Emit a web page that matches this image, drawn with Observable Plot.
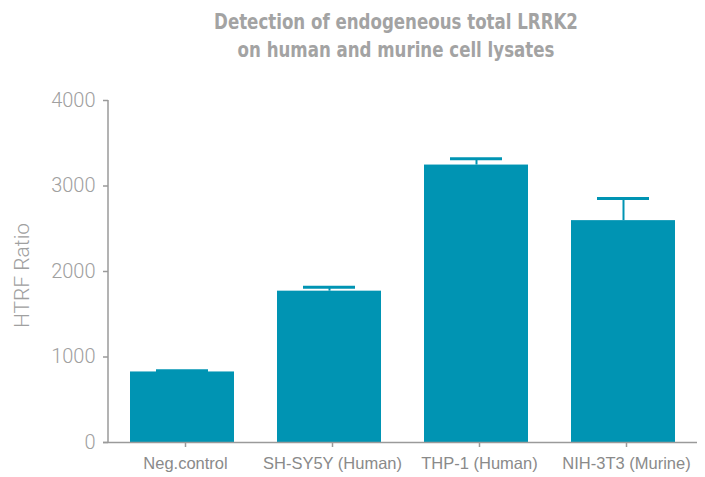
<!DOCTYPE html>
<html><head><meta charset="utf-8">
<script src="https://cdn.jsdelivr.net/npm/d3@7"></script>
<script src="https://cdn.jsdelivr.net/npm/@observablehq/plot@0.6"></script>
<style>
body{margin:0;background:#fff;}
#title{height:78px;box-sizing:border-box;padding-top:8px;width:705px;position:relative;}
#title div{position:absolute;left:396px;transform:translateX(-50%) scaleX(0.86);white-space:nowrap;font-family:"DejaVu Sans Condensed","DejaVu Sans",sans-serif;font-weight:bold;font-size:21.5px;line-height:28px;color:#a3a3a3;text-align:center;}
</style></head><body>
<div id="title"><div>Detection of endogeneous total LRRK2<br>on human and murine cell lysates</div></div>
<div id="chart"></div>
<script>
const categories = ["Neg.control", "SH-SY5Y (Human)", "THP-1 (Human)", "NIH-3T3 (Murine)"];
const values = [825, 1770, 3245, 2595];
const errors = [15, 45, 75, 260];
const yTicks = [0, 1000, 2000, 3000, 4000];

const data = categories.map((c, i) => ({cat: c, v: values[i], e: errors[i]}));
const color = "#0094b3";
const grey = "#9a9a9a";

const chart = Plot.plot({
  width: 705,
  height: 399,
  marginTop: 22,
  marginBottom: 35,
  marginLeft: 108,
  marginRight: 8,
  x: {domain: categories, paddingInner: 0.29, paddingOuter: 0.145, label: null},
  y: {domain: [0, 4000], label: null},
  style: {fontFamily: "Liberation Sans, Arial, sans-serif", color: grey, background: "#fff"},
  marks: [
    Plot.barY(data, {x: "cat", y: "v", fill: color}),
    Plot.ruleX(data, {x: "cat", y1: "v", y2: d => d.v + d.e, stroke: color, strokeWidth: 2}),
    Plot.tickY(data, {x: "cat", y: d => d.v + d.e, stroke: color, strokeWidth: 3, inset: 26}),
    Plot.ruleY([0], {stroke: grey, strokeWidth: 1.5, insetLeft: -5}),
    Plot.axisY({ticks: yTicks, tickFormat: d3.format("d"), tickSize: 5, tickPadding: 8, fontSize: 20, stroke: grey, strokeWidth: 1.5, fill: "#a0a0a0", fontFamily: "Roboto", fontWeight: 300}),
    Plot.axisX({tickSize: 5, tickPadding: 10, fontSize: 16.5, dx: 3, stroke: grey, strokeWidth: 1.5, fill: "#8a8a8a"}),
    Plot.text(["HTRF Ratio"], {frameAnchor: "left", textAnchor: "middle", dx: -86, dy: 4, rotate: -90, fontSize: 21, fill: "#a0a0a0", fontFamily: "Roboto", fontWeight: 300})
  ]
});
const svg = d3.select(chart);
svg.append("line").attr("x1",108).attr("x2",108).attr("y1",22).attr("y2",364).attr("stroke",grey).attr("stroke-width",1.5);
document.getElementById("chart").appendChild(chart);
</script>
</body></html>
